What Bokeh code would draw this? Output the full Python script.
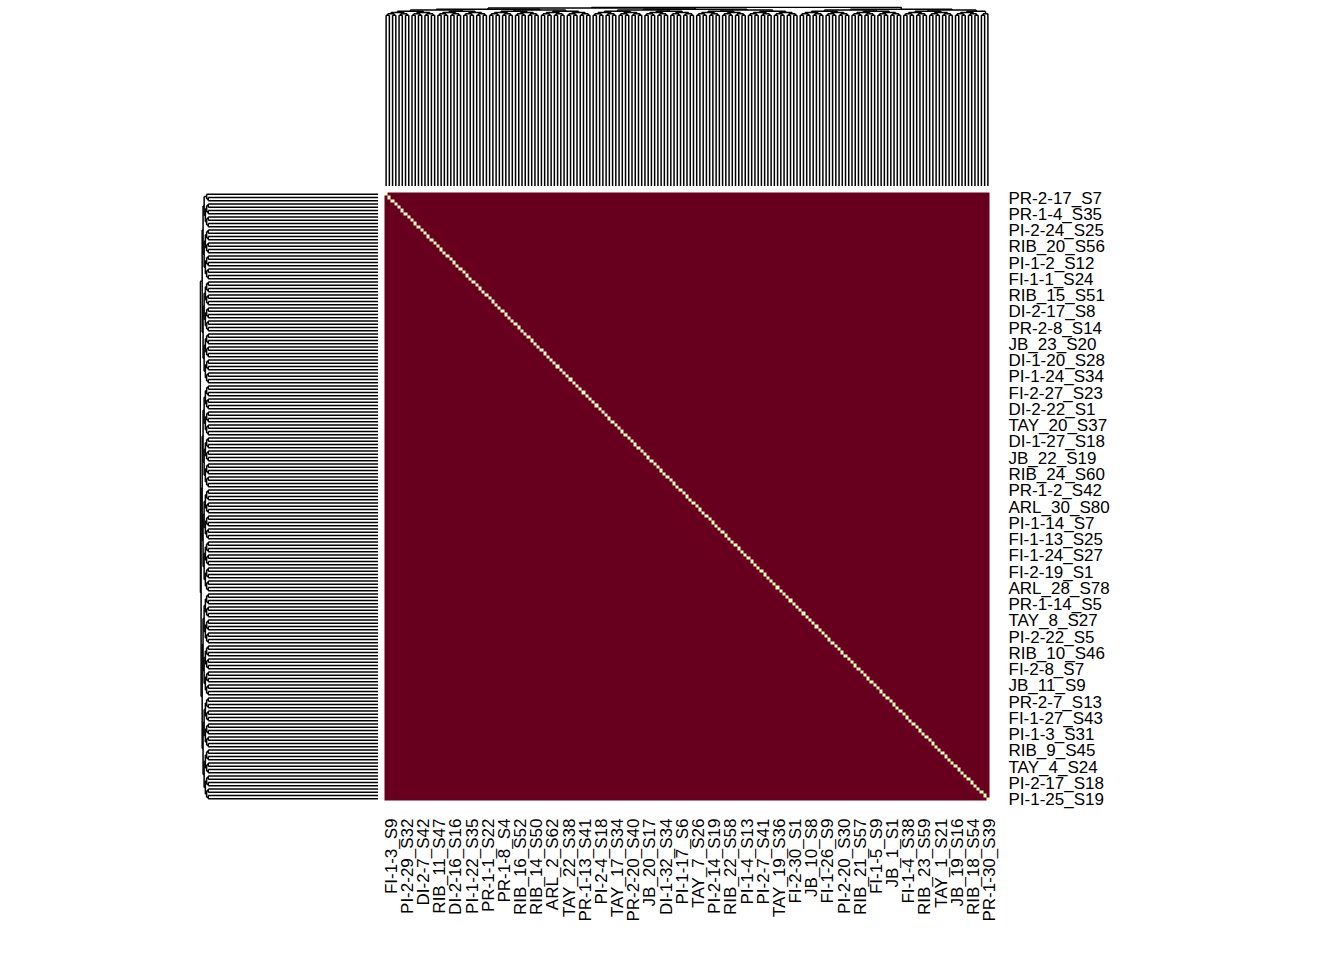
import math
import numpy as np
from bokeh.plotting import figure
from bokeh.models import Range1d, LinearColorMapper, Spacer, ColumnDataSource
from bokeh.core.properties import value
from bokeh.layouts import column, row
from bokeh.embed import file_html
from bokeh.resources import INLINE

# ---------------- data ----------------
n_samples = 187          # samples (rows = columns)
label_step = 5           # every 5th sample name is shown

row_labels = [
    "PR-2-17_S7", "PR-1-4_S35", "PI-2-24_S25", "RIB_20_S56", "PI-1-2_S12",
    "FI-1-1_S24", "RIB_15_S51", "DI-2-17_S8", "PR-2-8_S14", "JB_23_S20",
    "DI-1-20_S28", "PI-1-24_S34", "FI-2-27_S23", "DI-2-22_S1", "TAY_20_S37",
    "DI-1-27_S18", "JB_22_S19", "RIB_24_S60", "PR-1-2_S42", "ARL_30_S80",
    "PI-1-14_S7", "FI-1-13_S25", "FI-1-24_S27", "FI-2-19_S1", "ARL_28_S78",
    "PR-1-14_S5", "TAY_8_S27", "PI-2-22_S5", "RIB_10_S46", "FI-2-8_S7",
    "JB_11_S9", "PR-2-7_S13", "FI-1-27_S43", "PI-1-3_S31", "RIB_9_S45",
    "TAY_4_S24", "PI-2-17_S18", "PI-1-25_S19",
]
col_labels = [
    "FI-1-3_S9", "PI-2-29_S32", "DI-2-7_S42", "RIB_11_S47", "DI-2-16_S16",
    "PI-1-22_S35", "PR-1-1_S22", "PR-1-8_S4", "RIB_16_S52", "RIB_14_S50",
    "ARL_2_S62", "TAY_22_S38", "PR-1-13_S41", "PI-2-4_S18", "TAY_17_S34",
    "PR-2-20_S40", "JB_20_S17", "DI-1-32_S34", "PI-1-17_S6", "TAY_7_S26",
    "PI-2-14_S19", "RIB_22_S58", "PI-1-4_S13", "PI-2-7_S41", "TAY_19_S36",
    "FI-2-30_S1", "JB_10_S8", "FI-1-26_S9", "PI-2-20_S30", "RIB_21_S57",
    "FI-1-5_S9", "JB_1_S1", "FI-1-4_S38", "RIB_23_S59", "TAY_1_S21",
    "JB_19_S16", "RIB_18_S54", "PR-1-30_S39",
]

diag_value = 1.0         # a sample against itself
offdiag_value = 0.0      # any two different samples

# dendrogram merge heights (relative to the root), one per merge level
merge_heights = [0.955, 0.964, 0.971, 0.978, 0.984, 0.989, 0.995, 1.0]

low_color = "#67001F"
high_color = "#FFFFBF"
FONT = "Liberation Sans"
FONT_SIZE = "17px"

# ---------------- matrix ----------------
n = n_samples
mat = np.full((n, n), offdiag_value)
for i in range(n):
    mat[i, i] = diag_value
img = np.ascontiguousarray(mat[::-1, :])   # display row i sits at y = n-1-i


def build_dendro(count, heights):
    nodes = [(float(k), 0.0) for k in range(count)]
    segs = []
    for h in heights:
        new = []
        k = 0
        while k < len(nodes):
            if k + 1 < len(nodes):
                (p1, h1), (p2, h2) = nodes[k], nodes[k + 1]
                segs.append((p1, h1, p1, h))
                segs.append((p2, h2, p2, h))
                segs.append((p1, h, p2, h))
                new.append(((p1 + p2) / 2.0, h))
                k += 2
            else:
                new.append(nodes[k])
                k += 1
        nodes = new
    return segs


segs = build_dendro(n, merge_heights)
pos0 = [s[0] for s in segs]
h0 = [s[1] for s in segs]
pos1 = [s[2] for s in segs]
h1 = [s[3] for s in segs]

# ---------------- layout constants (pixels) ----------------
TOP_H = 186             # height of the top dendrogram strip
LEFT_W = 378            # width of the left dendrogram strip
PAD = 6                 # gap between the dendrograms and the matrix
HEAT_W, HEAT_H = 605, 608
FRAME_W = 1344 - LEFT_W
FRAME_H = 960 - TOP_H
px_col = HEAT_W / n
px_row = HEAT_H / n

# ---------------- heatmap (frame also holds the name labels) ----------------
x0 = -0.5 - PAD / px_col
y1 = (n - 0.5) + PAD / px_row
shared_y = Range1d(y1 - FRAME_H / px_row, y1)
H = figure(
    x_range=Range1d(x0, x0 + FRAME_W / px_col),
    y_range=shared_y,
    frame_width=FRAME_W, frame_height=FRAME_H,
    min_border_left=0, min_border_top=0, min_border_right=0, min_border_bottom=0,
    x_axis_location=None, y_axis_location=None,
    output_backend="svg", toolbar_location=None,
)
H.grid.visible = False
H.outline_line_color = None
mapper = LinearColorMapper(palette=[low_color, high_color], low=offdiag_value, high=diag_value)
H.image(image=[img], x=-0.5, y=-0.5, dw=n, dh=n, color_mapper=mapper)

col_ticks = list(range(0, n, label_step))[:len(col_labels)]
row_ticks = [n - 1 - i for i in range(0, n, label_step)][:len(row_labels)]

row_src = ColumnDataSource(dict(x=[n - 0.5] * len(row_ticks), y=row_ticks, text=row_labels))
H.text(x="x", y="y", text="text", source=row_src,
       x_offset=19, y_offset=4,
       text_align="left", text_baseline="middle",
       text_font=value(FONT), text_font_size=value(FONT_SIZE), text_color="black")

col_src = ColumnDataSource(dict(x=col_ticks, y=[-0.5] * len(col_ticks), text=col_labels))
H.text(x="x", y="y", text="text", source=col_src,
       angle=math.pi / 2, x_offset=5, y_offset=18,
       text_align="right", text_baseline="middle",
       text_font=value(FONT), text_font_size=value(FONT_SIZE), text_color="black")

# ---------------- top dendrogram ----------------
T = figure(
    x_range=Range1d(-0.5, n - 0.5), y_range=Range1d(0, 1.004),
    frame_width=HEAT_W, frame_height=TOP_H - 6,
    min_border_left=0, min_border_right=0, min_border_top=6, min_border_bottom=0,
    x_axis_location=None, y_axis_location=None,
    output_backend="svg", toolbar_location=None,
)
T.grid.visible = False
T.outline_line_color = None
T.segment(x0=pos0, y0=h0, x1=pos1, y1=h1, line_color="black", line_width=1.5)

# ---------------- left dendrogram ----------------
L = figure(
    x_range=Range1d(1.004, 0), y_range=shared_y,
    frame_width=LEFT_W - 199, frame_height=FRAME_H,
    min_border_left=199, min_border_right=0, min_border_top=0, min_border_bottom=0,
    x_axis_location=None, y_axis_location=None,
    output_backend="svg", toolbar_location=None,
)
L.grid.visible = False
L.outline_line_color = None
L.segment(x0=h0, y0=pos0, x1=h1, y1=pos1, line_color="black", line_width=1.5)

layout = column(
    row(Spacer(width=LEFT_W + PAD, height=TOP_H), T),
    row(L, H),
)

open("out.html", "w").write(file_html(layout, INLINE))
